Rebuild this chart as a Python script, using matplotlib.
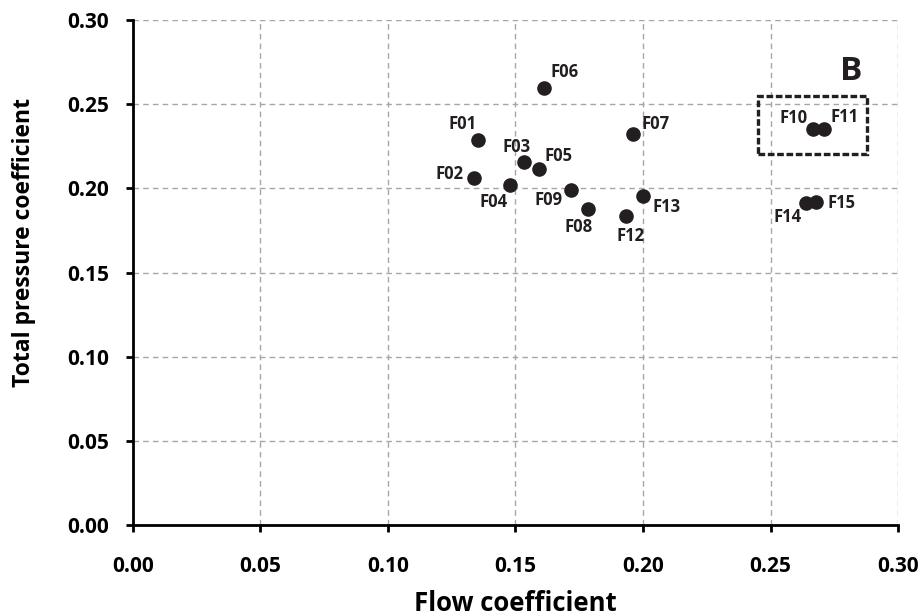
import matplotlib
matplotlib.use("Agg")
import matplotlib.pyplot as plt
from matplotlib.patches import Rectangle

plt.rcParams['font.family'] = ['Open Sans', 'DejaVu Sans']

# ----------------------------
# data
# ----------------------------
names = ["F01", "F02", "F03", "F04", "F05", "F06", "F07", "F08",
         "F09", "F10", "F11", "F12", "F13", "F14", "F15"]
flow = [0.1354, 0.1337, 0.1532, 0.1478, 0.1592, 0.1613, 0.1962, 0.1783,
        0.1716, 0.2667, 0.2709, 0.1934, 0.2000, 0.2638, 0.2677]
pressure = [0.2289, 0.2063, 0.2158, 0.2018, 0.2117, 0.2597, 0.2325, 0.1880,
            0.1989, 0.2354, 0.2351, 0.1835, 0.1955, 0.1915, 0.1921]

# label offsets in pixels (dx, dy)
label_offsets = {
    "F01": (-16, 16), "F02": (-24, 4), "F03": (-7, 15), "F04": (-16, -17),
    "F05": (20, 13), "F06": (20, 16), "F07": (22, 10), "F08": (-9, -18),
    "F09": (-22, -10), "F10": (-20, 11), "F11": (21, 12), "F12": (4, -20),
    "F13": (24, -11), "F14": (-18, -14), "F15": (26, -1),
}

xticks = [0.00, 0.05, 0.10, 0.15, 0.20, 0.25, 0.30]
yticks = [0.00, 0.05, 0.10, 0.15, 0.20, 0.25, 0.30]

box_x = (0.2451, 0.2877)
box_y = (0.2204, 0.2547)
box_label = ("B", 0.2816, 0.2695)

# ----------------------------
# plotting
# ----------------------------
fig = plt.figure(figsize=(9.24, 6.16), dpi=100)
ax = fig.add_axes([0.1439, 0.1477, 0.828, 0.8198])

ax.scatter(flow, pressure, s=90, color="#231f20", zorder=3)

for n, x, y in zip(names, flow, pressure):
    dx, dy = label_offsets[n]
    ax.annotate(n, (x, y), xytext=(dx, dy), textcoords="offset pixels",
                ha="center", va="center", fontsize=12, fontweight="bold",
                color="#231f20")

ax.add_patch(Rectangle((box_x[0], box_y[0]), box_x[1] - box_x[0], box_y[1] - box_y[0],
                       fill=False, edgecolor="#231f20", linewidth=2.4,
                       linestyle=(0, (2, 0.8)), zorder=4))
ax.text(box_label[1], box_label[2], box_label[0], fontsize=24, fontweight="bold",
        ha="center", va="center", color="#231f20")

ax.set_xlim(0, 0.30)
ax.set_ylim(0, 0.30)
ax.set_xticks(xticks)
ax.set_yticks(yticks)
ax.set_xticklabels([f"{v:.2f}" for v in xticks])
ax.set_yticklabels([f"{v:.2f}" for v in yticks])

ax.grid(True, color="#a6a6a6", linestyle=(0, (4, 3)), linewidth=1)
ax.set_axisbelow(True)

for side in ["top", "right"]:
    ax.spines[side].set_visible(False)
for side in ["left", "bottom"]:
    ax.spines[side].set_linewidth(2)
    ax.spines[side].set_color("black")

ax.tick_params(axis="both", direction="out", length=5, width=2, labelsize=15)
ax.tick_params(axis="x", pad=17)
ax.tick_params(axis="y", pad=12)
for lab in ax.get_xticklabels() + ax.get_yticklabels():
    lab.set_fontweight("bold")

ax.set_xlabel("Flow coefficient", fontsize=18.5, fontweight="bold", labelpad=10)
ax.set_ylabel("Total pressure coefficient", fontsize=16.5, fontweight="bold")
ax.yaxis.set_label_coords(-0.127, 0.56)

fig.savefig("out.png", dpi=100)
